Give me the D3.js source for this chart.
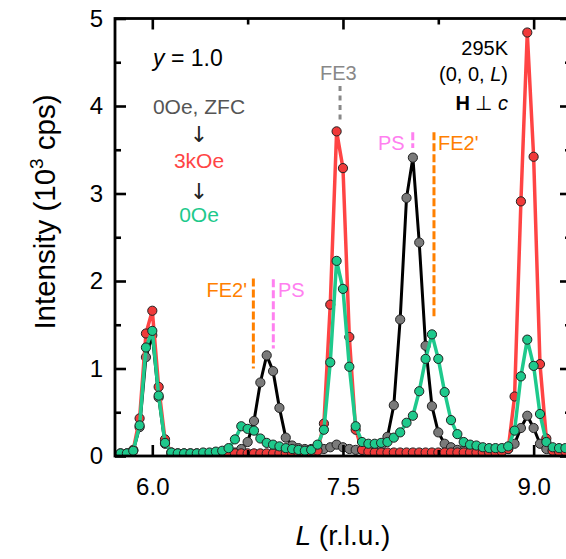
<!DOCTYPE html>
<html>
<head>
<meta charset="utf-8">
<script src="https://cdn.jsdelivr.net/npm/d3@7"></script>
<style>
  body { margin: 0; background: #fff; }
  svg { display: block; font-family: "Liberation Sans", Arial, sans-serif; }
</style>
</head>
<body>
<div id="chart"></div>
<script>
// scan points along (0, 0, L)
var L_SCAN = [5.75, 5.80, 5.85, 5.90, 5.95, 6.00, 6.05, 6.10, 6.15, 6.20,
              6.25, 6.30, 6.35, 6.40, 6.45, 6.50, 6.55, 6.60, 6.65, 6.70,
              6.75, 6.80, 6.85, 6.90, 6.95, 7.00, 7.05, 7.10, 7.15, 7.20,
              7.25, 7.30, 7.35, 7.40, 7.45, 7.50, 7.55, 7.60, 7.65, 7.70,
              7.75, 7.80, 7.85, 7.90, 7.95, 8.00, 8.05, 8.10, 8.15, 8.20,
              8.25, 8.30, 8.35, 8.40, 8.45, 8.50, 8.55, 8.60, 8.65, 8.70,
              8.75, 8.80, 8.85, 8.90, 8.95, 9.00, 9.05, 9.10, 9.15, 9.20, 9.25];

// intensity, 10^3 cps
var ZFC_0OE = [0.03, 0.03, 0.06, 0.33, 1.13, 1.38, 0.67, 0.14, 0.04, 0.03,
               0.03, 0.03, 0.03, 0.03, 0.03, 0.03, 0.03, 0.03, 0.04, 0.08,
               0.16, 0.40, 0.84, 1.15, 0.97, 0.55, 0.21, 0.12, 0.09, 0.08,
               0.08, 0.07, 0.08, 0.10, 0.13, 0.10, 0.08, 0.07, 0.07, 0.08,
               0.09, 0.12, 0.22, 0.58, 1.56, 2.95, 3.41, 2.44, 1.26, 0.57,
               0.27, 0.14, 0.10, 0.07, 0.06, 0.05, 0.05, 0.05, 0.05, 0.05,
               0.06, 0.08, 0.14, 0.32, 0.46, 0.32, 0.14, 0.08, 0.06, 0.06, 0.06];

var FIELD_3KOE = [0.02, 0.02, 0.07, 0.43, 1.40, 1.66, 0.79, 0.19, 0.03, 0.02,
                  0.02, 0.02, 0.02, 0.02, 0.02, 0.02, 0.03, 0.03, 0.03, 0.03,
                  0.03, 0.03, 0.03, 0.03, 0.03, 0.03, 0.03, 0.03, 0.03, 0.03,
                  0.03, 0.06, 0.37, 1.73, 3.71, 3.29, 1.36, 0.30, 0.07, 0.05,
                  0.04, 0.04, 0.04, 0.04, 0.04, 0.04, 0.04, 0.04, 0.04, 0.04,
                  0.04, 0.04, 0.04, 0.04, 0.04, 0.04, 0.04, 0.04, 0.04, 0.04,
                  0.05, 0.08, 0.68, 2.91, 4.84, 3.42, 1.05, 0.20, 0.06, 0.05, 0.05];

var AFTER_0OE = [0.03, 0.03, 0.06, 0.35, 1.24, 1.43, 0.69, 0.15, 0.04, 0.03,
                 0.03, 0.03, 0.03, 0.04, 0.04, 0.05, 0.06, 0.09, 0.19, 0.34,
                 0.31, 0.29, 0.20, 0.15, 0.13, 0.11, 0.09, 0.08, 0.07, 0.06,
                 0.07, 0.13, 0.30, 1.07, 2.23, 1.91, 1.02, 0.34, 0.16, 0.14,
                 0.14, 0.15, 0.16, 0.21, 0.27, 0.38, 0.46, 0.74, 1.11, 1.39,
                 1.11, 0.73, 0.41, 0.25, 0.16, 0.13, 0.12, 0.10, 0.09, 0.09,
                 0.09, 0.11, 0.29, 0.91, 1.33, 1.03, 0.48, 0.16, 0.10, 0.09, 0.09];

var X_MAJOR = [6.0, 7.5, 9.0];
var X_MINOR = [6.75, 8.25];
var Y_MAJOR = [0, 1, 2, 3, 4, 5];
var Y_MINOR = [0.5, 1.5, 2.5, 3.5, 4.5];

// peak markers: label, L, top, bottom (intensity)
var MARKS = [
    { name: "FE3", L: 7.477, top: 4.23, bottom: 3.84, color: "#888888" },
    { name: "PS", L: 8.049, top: 3.70, bottom: 3.52, color: "#ff80f0" },
    { name: "FE2'", L: 8.216, top: 3.70, bottom: 1.59, color: "#ff8000" },
    { name: "FE2'", L: 6.795, top: 2.03, bottom: 1.00, color: "#ff8000" },
    { name: "PS", L: 6.952, top: 2.02, bottom: 1.23, color: "#ff80f0" }
];

function makeChart() {
    var width = 566, height = 559;
    var left = 115, right = 571, top = 18.5, bottom = 456;

    var svg = d3.select("#chart").append("svg")
        .attr("width", width)
        .attr("height", height);

    var x = d3.scaleLinear().domain([5.7065, 9.294]).range([left, right]);
    var y = d3.scaleLinear().domain([0, 5]).range([bottom, top]);

    svg.append("clipPath").attr("id", "plot")
        .append("rect")
        .attr("x", left).attr("y", top)
        .attr("width", right - left).attr("height", bottom - top);

    function series(vals) {
        return L_SCAN.map(function(l, i) { return { L: l, I: vals[i] }; });
    }

    var sets = [
        { data: series(ZFC_0OE), line: "#000000", fill: "#7a7a7a", lw: 3 },
        { data: series(FIELD_3KOE), line: "#ff4444", fill: "#f03a3a", lw: 3.5 },
        { data: series(AFTER_0OE), line: "#1ec98c", fill: "#1ec98c", lw: 3.5 }
    ];

    var line = d3.line().x(d => x(d.L)).y(d => y(d.I));
    var plot = svg.append("g").attr("clip-path", "url(#plot)");

    sets.forEach(function(s) {
        plot.append("path")
            .datum(s.data)
            .attr("d", line)
            .attr("fill", "none")
            .attr("stroke", s.line)
            .attr("stroke-width", s.lw)
            .attr("stroke-linejoin", "round");
        plot.append("g")
            .selectAll("circle")
            .data(s.data)
            .enter()
            .append("circle")
            .attr("cx", d => x(d.L))
            .attr("cy", d => y(d.I))
            .attr("r", 4.6)
            .attr("fill", s.fill)
            .attr("stroke", "#222")
            .attr("stroke-width", 1);
    });

    // dashed peak markers
    MARKS.forEach(function(m) {
        svg.append("line")
            .attr("x1", x(m.L)).attr("x2", x(m.L))
            .attr("y1", y(m.top)).attr("y2", y(m.bottom))
            .attr("stroke", m.color)
            .attr("stroke-width", 3)
            .attr("stroke-dasharray", m.name == "FE3" ? "5,4.5" : "8,3");
    });

    function label(tx, ty, txt, color, anchor) {
        return svg.append("text")
            .attr("x", tx).attr("y", ty)
            .attr("font-size", 20)
            .attr("fill", color)
            .attr("text-anchor", anchor || "start")
            .text(txt);
    }
    label(320, 80, "FE3", "#888888");
    label(378, 150, "PS", "#ff80f0");
    label(438, 150, "FE2'", "#ff8000");
    label(247, 297, "FE2'", "#ff8000", "end");
    label(278, 297, "PS", "#ff80f0");

    // frame
    svg.append("rect")
        .attr("x", left).attr("y", top)
        .attr("width", right - left).attr("height", bottom - top)
        .attr("fill", "none")
        .attr("stroke", "#000")
        .attr("stroke-width", 2.8);

    function axis(gen, tx, ty, vals, size, pad, fmt) {
        var g = svg.append("g")
            .attr("transform", `translate(${tx}, ${ty})`)
            .call(gen.tickValues(vals).tickSize(-size).tickPadding(pad).tickFormat(fmt));
        g.select(".domain").remove();
        g.selectAll("line").attr("stroke", "#000").attr("stroke-width", 2.6);
        g.selectAll("text")
            .attr("font-family", "Liberation Sans, Arial, sans-serif")
            .attr("font-size", 24)
            .attr("fill", "#000");
        return g;
    }
    var none = () => "";
    axis(d3.axisBottom(x), 0, bottom, X_MAJOR, 11, 22, d3.format(".1f"));
    axis(d3.axisBottom(x), 0, bottom, X_MINOR, 6, 0, none);
    axis(d3.axisTop(x), 0, top, X_MAJOR, 11, 0, none);
    axis(d3.axisTop(x), 0, top, X_MINOR, 6, 0, none);
    axis(d3.axisLeft(y), left, 0, Y_MAJOR, 11, 12, d3.format("d"));
    axis(d3.axisLeft(y), left, 0, Y_MINOR, 6, 0, none);
    axis(d3.axisRight(y), right, 0, Y_MAJOR, 11, 0, none);
    axis(d3.axisRight(y), right, 0, Y_MINOR, 6, 0, none);

    // axis titles
    var xt = svg.append("text")
        .attr("x", (x(6) + x(9)) / 2).attr("y", 545)
        .attr("text-anchor", "middle")
        .attr("font-size", 28);
    xt.append("tspan").attr("font-style", "italic").text("L");
    xt.append("tspan").text(" (r.l.u.)");

    var yt = svg.append("text")
        .attr("transform", "translate(55, 212) rotate(-90)")
        .attr("text-anchor", "middle")
        .attr("font-size", 29.5);
    yt.append("tspan").text("Intensity (10");
    yt.append("tspan").attr("font-size", 19).attr("dy", -12).text("3");
    yt.append("tspan").attr("dy", 12).text(" cps)");

    // condition notes
    var yv = svg.append("text").attr("x", 153).attr("y", 66).attr("font-size", 23);
    yv.append("tspan").attr("font-style", "italic").text("y");
    yv.append("tspan").text(" = 1.0");

    var notes = [
        { t: "0Oe, ZFC", c: "#555555", yy: 114, f: 21 },
        { t: "\u2193", c: "#222222", yy: 142, f: 0 },
        { t: "3kOe", c: "#ff4444", yy: 168, f: 21 },
        { t: "\u2193", c: "#222222", yy: 199, f: 0 },
        { t: "0Oe", c: "#1ec98c", yy: 222, f: 21 }
    ];
    notes.forEach(function(n) {
        var t = svg.append("text")
            .attr("x", 199).attr("y", n.yy)
            .attr("text-anchor", "middle")
            .attr("fill", n.c)
            .text(n.t);
        if (n.f) t.attr("font-size", n.f);
        else t.attr("font-size", 22).attr("font-family", "DejaVu Sans");
    });

    svg.append("text").attr("x", 508).attr("y", 55).attr("text-anchor", "end")
        .attr("font-size", 20).text("295K");
    var hk = svg.append("text").attr("x", 508).attr("y", 81).attr("text-anchor", "end")
        .attr("font-size", 20);
    hk.append("tspan").text("(0, 0, ");
    hk.append("tspan").attr("font-style", "italic").text("L");
    hk.append("tspan").text(")");
    var hc = svg.append("text").attr("x", 508).attr("y", 110).attr("text-anchor", "end")
        .attr("font-size", 20);
    hc.append("tspan").attr("font-weight", "bold").text("H");
    hc.append("tspan").text(" \u22A5 ");
    hc.append("tspan").attr("font-style", "italic").text("c");
}

makeChart();
</script>
</body>
</html>
